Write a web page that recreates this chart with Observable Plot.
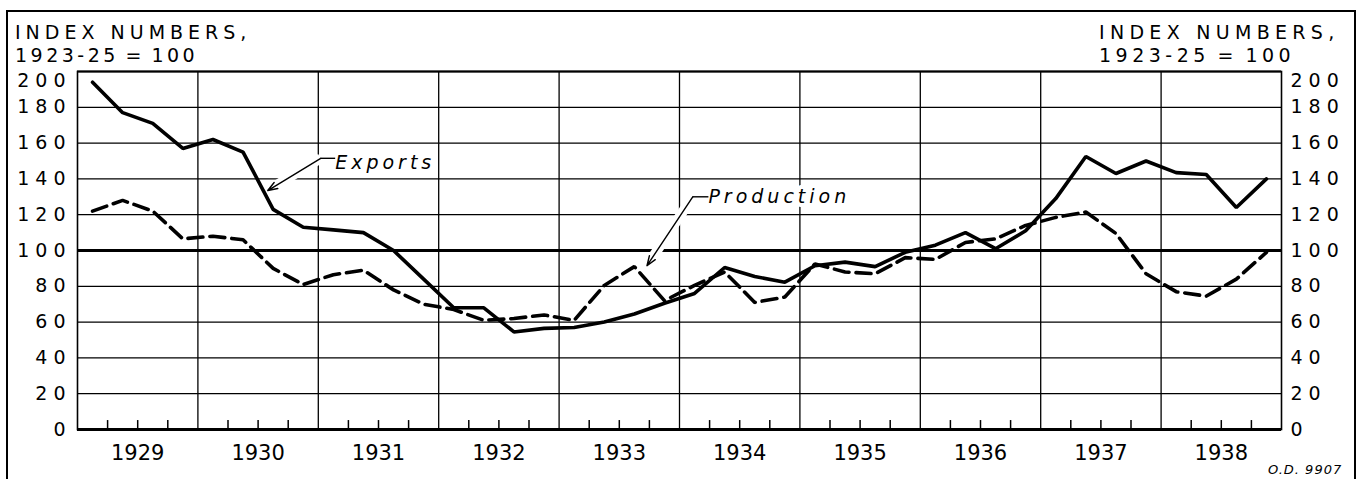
<!DOCTYPE html>
<html><head><meta charset="utf-8">
<script src="https://cdn.jsdelivr.net/npm/d3@7"></script>
<script src="https://cdn.jsdelivr.net/npm/@observablehq/plot@0.6"></script>
<style>
body{margin:0;background:#fff;}
#wrap{position:relative;width:1362px;height:479px;overflow:hidden;background:#fff;font-family:"DejaVu Sans",sans-serif;color:#000;}
#chart{position:absolute;left:0;top:0;}
#border{position:absolute;left:6px;top:10px;width:1350px;height:520px;border:2px solid #000;box-sizing:border-box;pointer-events:none;}
.title{position:absolute;font-size:19px;letter-spacing:5px;line-height:18px;white-space:nowrap;}
.title.l2{letter-spacing:3.5px;word-spacing:-3px;}
.code{position:absolute;font-size:13px;font-style:italic;letter-spacing:1px;white-space:nowrap;}
g[aria-label="y-axis tick label"] text{letter-spacing:6px;}
g[aria-label="x-axis tick label"] text{letter-spacing:0px;}
g[aria-label="text"] text{letter-spacing:4px;}
</style>
</head><body>
<div id="wrap">
  <div id="chart"></div>
  <div class="title" style="left:15px;top:23px;">INDEX NUMBERS,</div>
  <div class="title l2" style="left:15px;top:46px;">1923-25 = 100</div>
  <div class="title" style="left:1099px;top:23px;letter-spacing:5.3px;">INDEX NUMBERS,</div>
  <div class="title l2" style="left:1099px;top:46px;letter-spacing:4.5px;">1923-25 = 100</div>
  <div class="code" style="left:1268px;top:462px;">O.D. 9907</div>
  <div id="border"></div>
</div>
<script>
// ---- data (quarterly index numbers, 1923-25 = 100) ----
const years = [1929, 1930, 1931, 1932, 1933, 1934, 1935, 1936, 1937, 1938];
const quarters = [1, 2, 3, 4];
const exportsIdx = [
  194, 177, 171, 157,
  162, 155, 123, 113,
  111.5, 110, 100, 84,
  68, 68, 54.5, 56.5,
  57, 60, 64.5, 70.5,
  76, 90.5, 85.5, 82.3,
  91.5, 93.5, 91, 99,
  103, 110, 101, 111,
  129, 152.5, 143, 150,
  143.5, 142.5, 124, 140
];
const productionIdx = [
  122, 128, 122, 106.5,
  108, 106, 90, 81,
  86.5, 89, 78, 70,
  67, 61, 62, 64,
  61, 80.5, 91, 72,
  80.5, 88, 71, 74,
  92.5, 88, 87, 96,
  95, 104.5, 106.5, 114,
  118.5, 121.5, 109.5, 87,
  77, 74.5, 84, 99
];
const yTicks = [0, 20, 40, 60, 80, 100, 120, 140, 160, 180, 200];
const yearLabels = years.map(String);

// annotation labels with leader lines (data coordinates)
const labelNames = ["Exports", "Production"];
const labelX = [1931.14, 1934.24];
const labelY = [149, 130];
const leaderCornerX = [1931.02, 1934.11];
const leaderCornerY = [151.5, 130];
const arrowTipX = [1930.58, 1933.73];
const arrowTipY = [133.5, 91.5];

// ---- build tables ----
const rows = [];
years.forEach((yr, i) => quarters.forEach((q, j) => {
  const k = i * 4 + j;
  rows.push({t: yr + (q - 0.5) / 4, exports: exportsIdx[k], production: productionIdx[k]});
}));
const yMax = yTicks[yTicks.length - 1];
const yearMids = years.map(y => y + 0.5);
const yearBounds = years.slice(1);
const quarterTicks = years.flatMap(y => [y + 0.25, y + 0.5, y + 0.75]);
const labels = labelNames.map((name, i) => ({
  name, x: labelX[i], y: labelY[i],
  cx: leaderCornerX[i], cy: leaderCornerY[i],
  tx: arrowTipX[i], ty: arrowTipY[i]
}));

const axisText = {tickSize: 0, fontSize: 19};
const chart = Plot.plot({
  width: 1362,
  height: 479,
  marginLeft: 77,
  marginRight: 81,
  marginTop: 71,
  marginBottom: 50,
  style: {background: "transparent", fontFamily: "DejaVu Sans, sans-serif", color: "#000"},
  x: {domain: [years[0], years[years.length - 1] + 1]},
  y: {domain: [0, yMax]},
  marks: [
    Plot.ruleY(yTicks.filter(v => v !== 0 && v !== 100 && v !== yMax), {stroke: "#000", strokeWidth: 1.3}),
    Plot.ruleX(yearBounds, {stroke: "#000", strokeWidth: 1.3}),
    Plot.ruleY([100], {stroke: "#000", strokeWidth: 3}),
    Plot.ruleX(quarterTicks, {y1: 0, y2: 5, stroke: "#000", strokeWidth: 1.5}),
    Plot.frame({stroke: "#000", strokeWidth: 1.6}),
    Plot.ruleY([yMax], {stroke: "#000", strokeWidth: 2.2}),
    Plot.ruleY([0], {stroke: "#000", strokeWidth: 3}),
    // halos under the leader lines
    Plot.link(labels, {x1: "x", y1: "cy", x2: "cx", y2: "cy", stroke: "white", strokeWidth: 7}),
    Plot.link(labels, {x1: "cx", y1: "cy", x2: "tx", y2: "ty", stroke: "white", strokeWidth: 10}),
    Plot.text(labels, {x: "x", y: "y", text: "name", textAnchor: "start", fontSize: 19, fontStyle: "italic",
      fill: "#000", stroke: "white", strokeWidth: 8, paintOrder: "stroke"}),
    Plot.link(labels, {x1: "x", y1: "cy", x2: "cx", y2: "cy", stroke: "#000", strokeWidth: 1.4}),
    Plot.arrow(labels, {x1: "cx", y1: "cy", x2: "tx", y2: "ty", stroke: "#000", strokeWidth: 1.4,
      headLength: 11, headAngle: 40, bend: 0}),
    Plot.line(rows, {x: "t", y: "production", stroke: "#000", strokeWidth: 3.6, strokeDasharray: "15,7", strokeLinejoin: "miter"}),
    Plot.line(rows, {x: "t", y: "exports", stroke: "#000", strokeWidth: 3.6, strokeLinejoin: "miter"}),
    Plot.axisY(yTicks.filter(v => v < yMax), {...axisText, anchor: "left", tickPadding: 6}),
    Plot.axisY([yMax], {...axisText, anchor: "left", tickPadding: 6, dy: 9}),
    Plot.axisY(yTicks.filter(v => v < yMax), {...axisText, anchor: "right", tickPadding: 9}),
    Plot.axisY([yMax], {...axisText, anchor: "right", tickPadding: 9, dy: 9}),
    Plot.axisX(yearMids, {anchor: "bottom", tickSize: 0, tickPadding: 16, fontSize: 21,
      tickFormat: (d, i) => yearLabels[i]})
  ]
});
document.getElementById("chart").appendChild(chart);
</script>
</body></html>
